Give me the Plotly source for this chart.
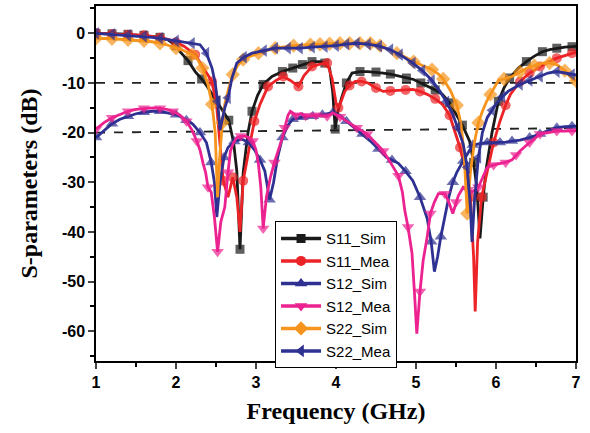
import plotly.graph_objects as go

# ---------------- data ----------------
s11_sim_f = [1.0,1.1,1.2,1.3,1.4,1.5,1.6,1.7,1.8,1.9,2.0,2.05,2.15,2.24,2.32,2.39,2.5,2.6,2.66,2.72,2.76,2.8,2.84,2.9,2.95,3.02,3.09,3.2,3.33,3.46,3.58,3.7,3.8,3.86,3.92,3.96,3.99,4.02,4.07,4.13,4.2,4.3,4.4,4.5,4.59,4.68,4.78,4.88,4.97,5.06,5.15,5.24,5.33,5.42,5.49,5.58,5.67,5.72,5.76,5.8,5.84,5.88,5.95,6.03,6.1,6.17,6.28,6.38,6.48,6.58,6.67,6.76,6.86,6.95,7.0]
s11_sim_db = [0,0,-0.1,-0.1,-0.2,-0.3,-0.4,-0.6,-0.8,-1.3,-2.5,-3.7,-5.5,-7.7,-9.2,-10.7,-13.5,-16,-17.5,-22,-27.7,-43.5,-28,-20,-15.7,-12.5,-10.3,-8.7,-7.7,-7,-6.3,-5.7,-5.7,-6,-7,-12,-19.3,-16,-13,-10,-8,-7.7,-7.7,-7.8,-8,-8.2,-8.6,-9,-9.3,-10,-10.7,-11.4,-12.3,-14,-16,-18.5,-21.7,-26,-31,-41.3,-33,-27,-20,-13.7,-11,-9,-7,-5.7,-4.6,-3.7,-3.3,-3,-2.8,-2.7,-2.6]

s11_mea_f = [1.0,1.1,1.2,1.3,1.4,1.5,1.6,1.7,1.8,1.9,2.0,2.1,2.24,2.35,2.45,2.51,2.55,2.59,2.65,2.71,2.76,2.8,2.84,2.89,2.94,2.98,3.05,3.15,3.25,3.34,3.43,3.53,3.6,3.7,3.8,3.89,3.95,4.0,4.03,4.07,4.11,4.17,4.24,4.32,4.4,4.5,4.59,4.68,4.78,4.87,4.96,5.05,5.14,5.24,5.33,5.42,5.49,5.55,5.59,5.64,5.68,5.72,5.74,5.77,5.82,5.89,5.97,6.05,6.12,6.18,6.3,6.42,6.55,6.65,6.76,6.86,6.95,7.0]
s11_mea_db = [0,-0.1,-0.2,-0.2,-0.3,-0.3,-0.4,-0.6,-0.9,-1.2,-1.8,-2.6,-4.3,-7,-9.7,-15,-22,-29.7,-33,-29,-33,-40,-29.7,-25,-21,-17.7,-14.3,-10.7,-9.5,-8.7,-9.5,-10.7,-8.5,-6.7,-6.2,-6,-9,-14,-15,-13.5,-11.7,-10.5,-9.7,-9.7,-10,-11,-11.7,-11.6,-11.5,-11.4,-11.3,-11.7,-12.3,-13.2,-14.3,-16.5,-20,-23,-25.7,-29,-33,-45,-56,-42,-33,-27.7,-22,-17.7,-14.5,-12.3,-9.7,-8,-6.7,-5.8,-5,-4.5,-4,-3.8]

s12_sim_f = [1.0,1.1,1.2,1.3,1.4,1.5,1.6,1.7,1.8,1.9,2.0,2.05,2.13,2.21,2.3,2.38,2.44,2.48,2.51,2.55,2.6,2.65,2.73,2.82,2.91,2.99,3.05,3.11,3.17,3.22,3.27,3.33,3.4,3.46,3.58,3.71,3.83,3.96,4.05,4.13,4.23,4.33,4.43,4.53,4.63,4.7,4.78,4.87,4.96,5.05,5.14,5.19,5.23,5.27,5.31,5.36,5.41,5.46,5.51,5.59,5.65,5.71,5.8,5.89,5.97,6.05,6.12,6.2,6.3,6.42,6.55,6.65,6.76,6.86,6.95,7.0]
s12_sim_db = [-21,-19.5,-18.2,-17.3,-16.7,-16.2,-15.9,-15.7,-15.7,-16,-16.4,-16.7,-17.5,-18.3,-20,-22,-26,-30,-37,-30,-25,-23,-21.8,-21.3,-22,-23.7,-25.5,-27.7,-33.5,-30,-25,-21,-18.5,-17.3,-16.9,-16.7,-16.4,-16,-16.5,-17.7,-19,-20.3,-21.7,-23.3,-25,-25.5,-26.2,-27.8,-29.7,-33,-37.3,-42,-48,-45,-41,-37,-33,-30,-28,-25.7,-24,-22.5,-22.2,-22,-22,-22,-21.9,-21.7,-21.5,-21,-20.3,-19.6,-19,-18.8,-18.7,-18.7]

s12_mea_f = [1.0,1.1,1.2,1.3,1.4,1.5,1.6,1.71,1.8,1.88,1.96,2.05,2.13,2.2,2.26,2.3,2.34,2.37,2.4,2.44,2.48,2.52,2.56,2.61,2.65,2.68,2.72,2.76,2.81,2.86,2.91,2.96,3.0,3.03,3.06,3.09,3.13,3.18,3.23,3.28,3.33,3.36,3.4,3.43,3.5,3.56,3.62,3.68,3.75,3.82,3.89,3.96,4.05,4.13,4.26,4.39,4.49,4.59,4.68,4.78,4.83,4.86,4.9,4.95,4.98,5.01,5.05,5.09,5.14,5.18,5.23,5.28,5.36,5.41,5.46,5.5,5.53,5.59,5.65,5.7,5.78,5.84,5.89,5.97,6.05,6.12,6.2,6.25,6.3,6.42,6.55,6.65,6.76,6.86,6.95,7.0]
s12_mea_db = [-19.3,-18,-17,-16.3,-15.7,-15.3,-15.1,-15,-15.1,-15.3,-15.7,-16.5,-17.7,-19.5,-21.7,-23.5,-26.3,-28,-31,-32,-37,-44,-38,-35,-28,-23.7,-22,-21,-20.7,-20.7,-21,-21.7,-23.5,-26.3,-31,-39.3,-33,-29,-26,-23.7,-21,-19,-16.5,-15.7,-16.5,-16.2,-16.6,-16.7,-16.5,-16.7,-16.7,-16,-16.8,-17.7,-19,-20.3,-22,-23.7,-26,-28.7,-32,-35.7,-39,-44.3,-52,-60.5,-52,-45.7,-41,-36.3,-34,-32.3,-32.3,-34,-36.3,-34,-32.7,-31,-31.5,-32,-31,-29,-27,-26.5,-26.3,-26,-25.5,-24.5,-23.7,-22,-20.3,-20,-19.7,-19.7,-19.7,-19.6]

s22_sim_f = [1.0,1.1,1.2,1.3,1.4,1.5,1.6,1.7,1.8,1.9,2.0,2.1,2.2,2.26,2.33,2.4,2.45,2.49,2.52,2.55,2.58,2.61,2.66,2.71,2.77,2.84,2.93,3.03,3.13,3.24,3.35,3.47,3.58,3.68,3.8,3.92,4.05,4.17,4.3,4.43,4.55,4.66,4.76,4.87,4.97,5.08,5.2,5.28,5.34,5.43,5.51,5.56,5.6,5.64,5.68,5.73,5.78,5.83,5.88,5.93,6.03,6.1,6.2,6.3,6.39,6.48,6.58,6.67,6.76,6.86,6.96,7.0]
s22_sim_db = [-1,-1,-1.1,-1.2,-1.3,-1.4,-1.5,-1.7,-2,-2.4,-3,-3.5,-4.3,-5,-7,-10.3,-14.3,-20,-33,-24,-18,-14.3,-11,-8.3,-6.5,-5.3,-4.6,-4,-3.5,-3,-2.7,-2.5,-2.4,-2.3,-2.2,-2.1,-2,-2,-2,-2,-2.5,-3.2,-4,-4.8,-5.7,-6.5,-7.3,-8.2,-9.2,-11.5,-14.5,-18,-24,-36.3,-28,-22,-18,-15.7,-13.8,-12.3,-9.5,-9.2,-8.7,-7.8,-7,-6.5,-6,-6,-6.3,-7.5,-9.3,-9.6]

s22_mea_f = [1.0,1.1,1.2,1.3,1.4,1.5,1.6,1.7,1.8,1.9,2.0,2.1,2.2,2.3,2.38,2.45,2.49,2.52,2.55,2.58,2.61,2.65,2.7,2.76,2.85,2.95,3.1,3.24,3.4,3.55,3.7,3.86,4.0,4.13,4.26,4.4,4.54,4.68,4.8,4.96,5.08,5.2,5.3,5.38,5.46,5.52,5.59,5.64,5.68,5.7,5.73,5.78,5.83,5.89,5.95,6.01,6.08,6.15,6.3,6.42,6.55,6.65,6.76,6.86,6.95,7.0]
s22_mea_db = [0,-0.1,-0.2,-0.3,-0.4,-0.5,-0.6,-0.8,-1,-1.2,-1.5,-1.8,-2,-2.3,-4,-7,-10,-13.7,-19.5,-17,-15,-13,-9,-6,-4.8,-4,-3.5,-3,-3,-3,-2.8,-2.7,-2.5,-2.2,-2,-2.2,-2.6,-3.3,-4.3,-6,-7.5,-9.5,-11.7,-13.8,-16.3,-19,-22.3,-27,-35,-42,-34,-25,-20,-17,-15.5,-14,-12.8,-11.7,-10.3,-9.5,-8.7,-8,-7.7,-8,-8.3,-8.4]

names = ["S11_Sim", "S11_Mea", "S12_Sim", "S12_Mea", "S22_Sim", "S22_Mea"]
colors = ["#1a1a1a", "#ec2327", "#2e3192", "#ec2290", "#f7941d", "#2e3192"]
symbols = ["square", "circle", "triangle-up", "triangle-down", "diamond", "triangle-left"]
msizes = [9, 10, 11, 11, 11, 11]
series = [(s11_sim_f, s11_sim_db), (s11_mea_f, s11_mea_db), (s12_sim_f, s12_sim_db),
          (s12_mea_f, s12_mea_db), (s22_sim_f, s22_sim_db), (s22_mea_f, s22_mea_db)]

fig = go.Figure()

def marker_sizes(f, size, gap=0.12):
    out, last = [], -10
    for v in f:
        if v - last >= gap - 1e-9:
            out.append(size); last = v
        else:
            out.append(0)
    return out

for (f, d), c, s, ms in zip(series, colors, symbols, msizes):
    fig.add_trace(go.Scatter(x=f, y=d, mode="lines+markers", showlegend=False,
                             line=dict(color=c, width=2.8),
                             marker=dict(symbol=s, color=c, size=marker_sizes(f, ms),
                                         line=dict(width=0))))
for nm, c, s, ms in zip(names, colors, symbols, msizes):
    fig.add_trace(go.Scatter(x=[None], y=[None], mode="lines+markers", name=nm,
                             line=dict(color=c, width=3.5),
                             marker=dict(symbol=s, color=c, size=ms)))

# reference dashed lines
fig.add_shape(type="line", xref="x", yref="y", x0=1, x1=7, y0=-10, y1=-10,
              line=dict(color="#222", width=1.8, dash="dash"), layer="below")
fig.add_shape(type="line", xref="x", yref="y", x0=1, x1=7, y0=-20, y1=-19.1,
              line=dict(color="#222", width=1.8, dash="dash"), layer="below")

yvals = [0, -10, -20, -30, -40, -50, -60]
fig.update_layout(
    width=590, height=433,
    margin=dict(l=96, r=14, t=4, b=72),
    paper_bgcolor="white", plot_bgcolor="white",
    font=dict(family="Liberation Sans, Arial", color="black"),
    xaxis=dict(range=[1, 7], tickvals=[1, 2, 3, 4, 5, 6, 7], ticks="outside", ticklen=6, tickwidth=1.5,
               showline=True, linecolor="black", linewidth=1.5, mirror=True, showgrid=False, zeroline=False,
               tickfont=dict(size=16, weight="bold"),
               minor=dict(dtick=0.5, ticks="outside", ticklen=4, tickwidth=1.5, tickcolor="black"),
               title=dict(text="Frequency (GHz)", font=dict(family="Liberation Serif, Times New Roman", size=24, weight="bold"), standoff=12)),
    yaxis=dict(range=[-66, 5.5], tickvals=yvals, ticktext=[str(v) for v in yvals], ticks="outside", ticklen=6, tickwidth=1.5,
               showline=True, linecolor="black", linewidth=1.5, mirror=True, showgrid=False, zeroline=False,
               tickfont=dict(size=16, weight="bold"),
               minor=dict(dtick=5, ticks="outside", ticklen=4, tickwidth=1.5, tickcolor="black"),
               title=dict(text="S-parameters (dB)", font=dict(family="Liberation Serif, Times New Roman", size=24, weight="bold"), standoff=18)),
    legend=dict(x=0.373, y=0.394, xanchor="left", yanchor="top", bgcolor="white",
                bordercolor="black", borderwidth=1, font=dict(size=15, family="Liberation Sans, Arial"),
                itemwidth=40, tracegroupgap=0),
)

fig.write_html("out.html")
